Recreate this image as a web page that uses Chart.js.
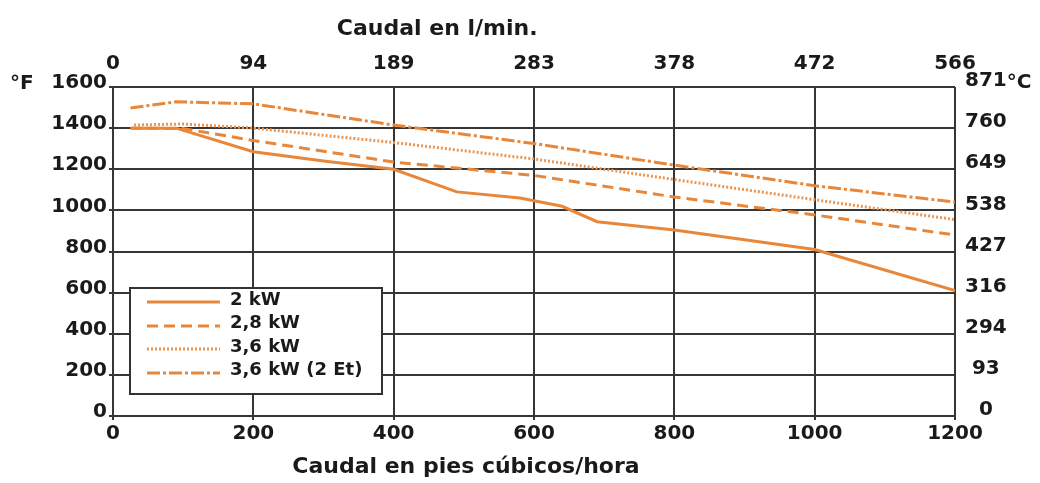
<!DOCTYPE html>
<html><head><meta charset="utf-8">
<script src="https://cdn.jsdelivr.net/npm/chart.js@4.4.1/dist/chart.umd.min.js"></script>
<style>html,body{margin:0;padding:0;background:#fff}#wrap{width:1040px;height:483px}</style>
</head><body><div id="wrap"><canvas id="c" width="1040" height="483"></canvas></div>
<script>
// ---- data ----
const flowTicksCfh = [0, 200, 400, 600, 800, 1000, 1200];          // bottom axis (pies cúbicos/hora)
const flowTicksLmin = ['0', '94', '189', '283', '378', '472', '566']; // top axis (l/min)
const tempTicksF = [0, 200, 400, 600, 800, 1000, 1200, 1400, 1600];  // left axis (°F)
const tempTicksC = ['0', '93', '294', '316', '427', '538', '649', '760', '871']; // right axis (°C)
const seriesNames = ['2 kW', '2,8 kW', '3,6 kW', '3,6 kW (2 Et)'];

const flow2kW = [25, 90, 200, 300, 400, 490, 580, 640, 690, 800, 1000, 1200];
const temp2kW = [1400, 1400, 1285, 1240, 1200, 1090, 1060, 1020, 945, 905, 810, 610];

const flow28kW = [25, 100, 200, 400, 600, 800, 1000, 1200];
const temp28kW = [1400, 1398, 1340, 1235, 1170, 1065, 978, 880];

const flow36kW = [30, 100, 200, 400, 600, 800, 1000, 1200];
const temp36kW = [1415, 1420, 1400, 1330, 1250, 1150, 1052, 955];

const flow36kW2 = [25, 90, 200, 400, 600, 800, 1000, 1200];
const temp36kW2 = [1498, 1528, 1518, 1415, 1325, 1220, 1120, 1040];

const topTitle = 'Caudal en l/min.';
const bottomTitle = 'Caudal en pies cúbicos/hora';
const leftUnit = '°F';
const rightUnit = '°C';

// ---- helpers ----
const pts = (xs, ys) => xs.map((x, i) => ({x: x, y: ys[i]}));
const FONT = "'DejaVu Sans'";
const TXT = '#1a1a1a';
const GRID = '#363636';
const ORANGE = '#E8873A';

const tickFont = {family: FONT, size: 20, weight: 'bold'};

const datasets = [
  {label: seriesNames[0], data: pts(flow2kW, temp2kW), borderColor: ORANGE, borderWidth: 3, borderDash: []},
  {label: seriesNames[1], data: pts(flow28kW, temp28kW), borderColor: ORANGE, borderWidth: 3, borderDash: [11, 6]},
  {label: seriesNames[2], data: pts(flow36kW, temp36kW), borderColor: '#EC9550', borderWidth: 3, borderDash: [2, 2]},
  {label: seriesNames[3], data: pts(flow36kW2, temp36kW2), borderColor: ORANGE, borderWidth: 3, borderDash: [13, 3, 3, 3]}
].map(d => Object.assign(d, {pointRadius: 0, tension: 0, fill: false}));

const decor = {
  id: 'decor',
  afterDraw(chart) {
    const ctx = chart.ctx;
    const x = chart.scales.x, y2 = chart.scales.y2, y = chart.scales.y;
    ctx.save();
    ctx.fillStyle = TXT;
    ctx.textBaseline = 'middle';
    // axis titles
    ctx.font = "bold 22px " + FONT;
    ctx.textAlign = 'center';
    ctx.fillText(topTitle, x.getPixelForValue(462), 29);
    ctx.fillText(bottomTitle, x.getPixelForValue(503), 467);
    // unit labels
    ctx.font = "bold 20px " + FONT;
    ctx.textAlign = 'left';
    ctx.fillText(leftUnit, 10, y.getPixelForValue(1600) - 3);
    const w871 = ctx.measureText(tempTicksC[tempTicksC.length - 1]).width;
    ctx.fillText(rightUnit, y2.left + 10 + w871, y2.getPixelForValue(1600) - 4);
    // legend
    const bx = 130, by = 288, bw = 252, bh = 106;
    ctx.fillStyle = '#fff';
    ctx.fillRect(bx, by, bw, bh);
    ctx.strokeStyle = '#333';
    ctx.lineWidth = 2;
    ctx.strokeRect(bx, by, bw, bh);
    const rows = [302, 326, 349, 373];
    const texts = [300, 323, 347, 370];
    chart.data.datasets.forEach((d, i) => {
      ctx.beginPath();
      ctx.strokeStyle = d.borderColor;
      ctx.lineWidth = d.borderWidth;
      ctx.setLineDash(d.borderDash || []);
      ctx.moveTo(147, rows[i]);
      ctx.lineTo(220, rows[i]);
      ctx.stroke();
      ctx.setLineDash([]);
      ctx.fillStyle = TXT;
      ctx.font = "bold 18px " + FONT;
      ctx.textAlign = 'left';
      ctx.fillText(d.label, 230, texts[i]);
    });
    ctx.restore();
  }
};

new Chart(document.getElementById('c'), {
  type: 'line',
  data: {datasets: datasets},
  options: {
    responsive: false,
    devicePixelRatio: 1,
    animation: false,
    layout: {padding: 0},
    plugins: {legend: {display: false}, tooltip: {enabled: false}, title: {display: false}},
    scales: {
      x: {
        type: 'linear', position: 'bottom', min: 0, max: 1200,
        afterBuildTicks: s => { s.ticks = flowTicksCfh.map(v => ({value: v})); },
        ticks: {font: tickFont, color: TXT, padding: 2, maxRotation: 0, autoSkip: false,
                callback: (v) => String(v)},
        grid: {color: GRID, lineWidth: 2, drawTicks: true, tickLength: 4, tickColor: GRID},
        border: {display: false},
        afterFit: s => { s.height = 67; s.paddingLeft = 0; s.paddingRight = 0; }
      },
      x2: {
        type: 'linear', position: 'top', min: 0, max: 1200,
        afterBuildTicks: s => { s.ticks = flowTicksCfh.map(v => ({value: v})); },
        ticks: {font: tickFont, color: TXT, padding: 11, maxRotation: 0, autoSkip: false,
                callback: (v, i) => flowTicksLmin[i]},
        grid: {display: false, drawTicks: false},
        border: {display: false},
        afterFit: s => { s.height = 87; s.paddingLeft = 0; s.paddingRight = 0; }
      },
      y: {
        type: 'linear', position: 'left', min: 0, max: 1600,
        afterBuildTicks: s => { s.ticks = tempTicksF.map(v => ({value: v})); },
        ticks: {font: tickFont, color: TXT, padding: 2, labelOffset: -4, autoSkip: false,
                callback: (v) => String(v)},
        grid: {color: GRID, lineWidth: 2, drawTicks: true, tickLength: 4, tickColor: GRID},
        border: {display: false},
        afterFit: s => { s.width = 113; s.paddingTop = 0; s.paddingBottom = 0; }
      },
      y2: {
        type: 'linear', position: 'right', min: 0, max: 1600,
        afterBuildTicks: s => { s.ticks = tempTicksF.map(v => ({value: v})); },
        ticks: {font: tickFont, color: TXT, padding: 10, labelOffset: -6, crossAlign: 'center', autoSkip: false,
                callback: (v, i) => tempTicksC[i]},
        grid: {display: false, drawTicks: false},
        border: {display: false},
        afterFit: s => { s.width = 85; s.paddingTop = 0; s.paddingBottom = 0; }
      }
    }
  },
  plugins: [decor]
});
</script>
</body></html>
